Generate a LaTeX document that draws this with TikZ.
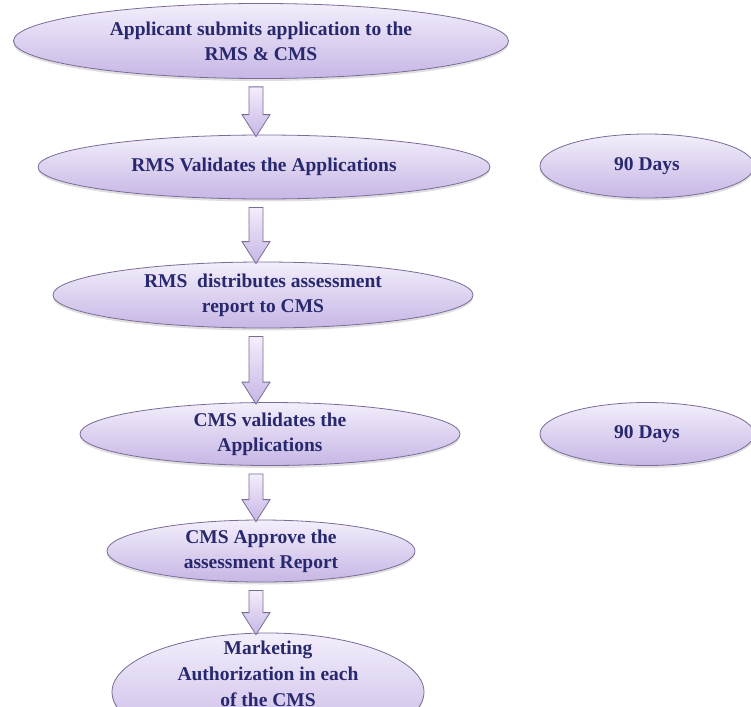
\documentclass[tikz,border=0pt]{standalone}
\usepackage{fontspec}
\setmainfont{Liberation Serif}
\usetikzlibrary{calc,shapes.geometric,shadows}
\definecolor{ovaltop}{RGB}{243,238,251}
\definecolor{ovalbot}{RGB}{198,182,229}
\definecolor{ovalline}{RGB}{122,108,150}
\definecolor{ovaltext}{RGB}{40,40,110}
\tikzset{
	ovaltxt/.style={inner sep=0pt, align=center, text=ovaltext, font=\fontsize{19.5}{25}\selectfont\bfseries},
	oval/.style={ovaltxt, ellipse, draw=ovalline, line width=0.8pt, top color=ovaltop, bottom color=ovalbot,
		drop shadow={shadow xshift=0pt, shadow yshift=-2.5pt, opacity=0.25}},
	blockarr/.style={draw=ovalline, line width=0.8pt, top color=ovaltop, bottom color=ovalbot, line join=miter}
}
% block arrow from the bottom of one oval to the top of the next
\newcommand\blockarrow[2]{\draw[blockarr] let \p1=(#1.south), \p2=(#2.north), \n1={\y1-8pt}, \n2={\y2-2pt} in
	(249pt,\n1) -- (263pt,\n1) -- (263pt,\n2+22pt) -- (270pt,\n2+22pt) -- (256pt,\n2) -- (242pt,\n2+22pt) -- (249pt,\n2+22pt) -- cycle;}

\begin{document}
\begin{tikzpicture}[x=1pt, y=-1pt]
		%%%%% START %%%%%
		\useasboundingbox (0, 0) rectangle (751, 706);
		
		\node[oval, minimum width=495, minimum height=75] (submit) at (261, 41) {Applicant submits application to the\\RMS \& CMS};
		\node[oval, minimum width=452, minimum height=64] (rmsval) at (264, 167) {RMS Validates the Applications};
		\node[oval, minimum width=214, minimum height=64] (daysa) at (647, 166) {90 Days};
		
		\node[oval, minimum width=420, minimum height=66] (distrib) at (263, 295) {RMS~ distributes assessment\\report to CMS};
		
		\node[oval, minimum width=380, minimum height=63] (cmsval) at (270, 434) {CMS validates the\\Applications};
		\node[oval, minimum width=214, minimum height=63] (daysb) at (647, 434) {90 Days};
		
		\node[oval, minimum width=308, minimum height=62] (approve) at (261, 551) {CMS Approve the\\assessment Report};
		\node[oval, minimum width=312, minimum height=118] (market) at (268, 692) {};
		\node[ovaltxt, font=\fontsize{19.5}{26}\selectfont\bfseries] (markettext) at ($(market.center)+(0,-18)$) {Marketing\\Authorization in each\\of the CMS};
		
		\blockarrow{submit}{rmsval}
		\blockarrow{rmsval}{distrib}
		\blockarrow{distrib}{cmsval}
		\blockarrow{cmsval}{approve}
		\blockarrow{approve}{market}
		%%%%% END %%%%%
	\end{tikzpicture}
\end{document}
